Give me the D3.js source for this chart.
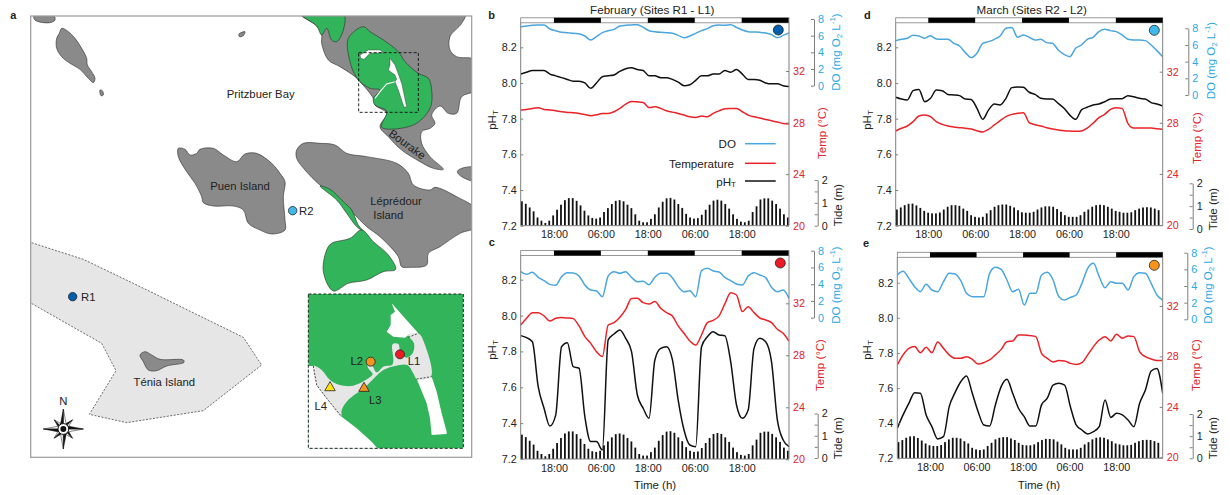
<!DOCTYPE html>
<html>
<head>
<meta charset="utf-8">
<script src="https://d3js.org/d3.v7.min.js"></script>
<style>
body { margin: 0; background: #fff; }
text { font-family: "Liberation Sans", Arial, sans-serif; fill: #222; }
</style>
</head>
<body>
<div id="wrapper"></div>
<script>
// series are sampled on an even grid of 47 points per panel, tide is hourly
const doFeb1 = [7.08,7.16,7.24,7.28,7.28,6.8,6.6,6.4,6.36,6.28,6.24,5.96,5.48,5.88,6.36,6.6,6.76,7.16,7.24,7.28,7.32,7.0,6.6,6.48,6.4,6.36,6.28,6.04,5.76,5.96,6.28,6.6,6.84,7.2,7.28,7.24,7.32,7.0,6.68,6.48,6.44,6.4,6.32,6.12,5.76,6.04,6.32];
const tempFeb1 = [28.97,29.02,29.1,29.15,29.02,28.97,28.91,28.84,28.79,28.76,28.71,28.63,28.53,28.6,28.71,28.71,28.84,29.1,29.43,29.64,29.61,29.56,29.17,29.22,29.1,28.91,28.81,28.71,28.58,28.45,28.4,28.5,28.45,28.71,28.91,29.07,29.1,29.1,28.84,28.58,28.45,28.35,28.24,28.14,28.04,27.93,27.88];
const phFeb1 = [8.05,8.06,8.07,8.07,8.07,8.05,8.04,8.03,8.02,8.01,8.01,8.0,7.97,8.0,8.035,8.04,8.045,8.065,8.08,8.085,8.075,8.07,8.04,8.04,8.03,8.03,8.02,8.005,7.985,7.99,8.015,8.04,8.04,8.05,8.05,8.07,8.06,8.075,8.05,8.02,8.02,8.015,8.0,7.995,7.995,7.985,7.98];

const doFeb2 = [5.5,5.18,5.42,4.82,4.42,3.98,3.86,4.9,5.38,5.34,4.98,3.9,3.31,3.19,2.51,4.98,5.5,5.3,5.5,4.82,4.3,4.34,3.94,4.82,5.3,5.3,4.78,3.71,3.11,3.23,2.51,5.62,5.9,5.58,5.46,4.82,4.42,4.02,3.9,4.98,5.38,5.1,4.78,3.63,3.11,3.31,2.31];
const tempFeb2 = [30.33,30.85,31.28,31.28,31.03,30.64,30.85,30.9,30.87,30.82,30.26,29.44,28.92,28.28,27.9,30.33,30.51,30.92,31.54,32.36,32.38,32.05,31.95,32.13,31.62,31.28,31.03,30.26,29.69,29.1,28.79,29.56,30.51,30.69,31.03,31.95,32.82,32.64,31.36,31.74,31.28,30.87,30.72,30.51,30.0,29.69,29.08];
const phFeb2 = [7.888,7.877,7.854,7.603,7.483,7.384,7.445,7.826,7.849,7.715,7.706,7.436,7.297,7.297,7.25,7.864,7.897,7.919,7.873,7.799,7.557,7.483,7.427,7.752,7.817,7.826,7.756,7.529,7.362,7.278,7.269,7.826,7.882,7.91,7.891,7.888,7.743,7.501,7.427,7.473,7.817,7.873,7.854,7.743,7.418,7.306,7.269];

const doMar1 = [6.52,6.68,6.8,7.16,7.08,6.8,7.12,6.72,6.68,6.68,6.2,5.88,5.08,4.48,5.0,6.2,6.4,6.68,7.08,8.0,8.1,6.92,7.2,6.92,6.6,6.68,6.28,6.2,5.4,4.88,4.6,5.6,6.0,6.68,6.92,7.6,7.88,7.72,7.6,7.2,6.68,6.6,6.6,6.52,6.0,5.32,4.6];
const tempMar1 = [27.36,27.57,27.75,28.09,28.53,28.61,28.48,28.09,27.88,27.75,27.67,27.62,27.57,27.51,27.38,27.28,27.49,27.83,28.17,28.48,28.66,28.74,28.79,28.01,27.85,27.75,27.62,27.51,27.44,27.38,27.36,27.33,27.36,27.59,27.96,28.4,28.66,29.05,29.18,29.13,27.96,27.59,27.59,27.59,27.59,27.54,27.49];
const phMar1 = [7.92,7.91,7.905,7.957,7.964,7.895,7.914,7.96,7.957,7.936,7.933,7.929,7.91,7.908,7.858,7.796,7.849,7.882,7.877,7.914,7.974,7.978,7.976,7.948,7.936,7.914,7.91,7.91,7.886,7.858,7.82,7.796,7.849,7.864,7.877,7.882,7.895,7.91,7.912,7.912,7.929,7.923,7.914,7.91,7.89,7.882,7.871];

const doMar2 = [5.32,5.76,4.92,3.92,3.32,4.2,3.52,3.32,4.52,5.52,5.44,4.64,3.12,2.72,2.72,2.72,5.52,6.24,6.0,4.72,3.32,3.6,1.72,3.12,3.12,5.32,5.64,4.72,2.72,2.32,2.64,2.92,4.32,6.12,6.72,5.12,3.8,4.52,4.32,4.32,3.52,5.12,5.6,5.52,4.32,2.92,2.32];
const tempMar2 = [27.32,28.12,28.64,28.78,28.3,28.72,28.3,29.15,28.64,28.12,27.85,27.85,27.98,27.77,27.4,27.51,27.72,28.12,28.56,29.17,29.23,29.7,29.7,29.65,29.57,28.25,27.85,27.56,27.67,27.64,27.45,27.37,27.51,28.12,28.78,29.3,29.57,29.23,29.75,29.44,29.62,29.57,28.38,27.98,27.8,27.67,27.67];
const phMar2 = [7.371,7.447,7.513,7.574,7.57,7.447,7.38,7.31,7.323,7.494,7.574,7.636,7.669,7.57,7.466,7.39,7.384,7.504,7.608,7.65,7.57,7.485,7.437,7.384,7.384,7.504,7.542,7.617,7.627,7.617,7.494,7.39,7.361,7.339,7.352,7.38,7.532,7.433,7.456,7.447,7.418,7.38,7.513,7.589,7.697,7.712,7.57];

const tideFeb = [1.07,.96,.8,.63,.36,.22,.12,.22,.45,.7,.92,1.12,1.21,1.21,1.09,.89,.66,.45,.34,.31,.36,.6,.77,.95,1.09,1.12,1.07,.92,.77,.5,.22,.15,.15,.3,.5,.8,1.05,1.2,1.22,1.15,.95,.78,.52,.36,.31,.33,.48,.7,.92,1.1,1.14,1.1,.95,.75,.5,.3,.18,.15,.22,.6,.85,1.15,1.2,1.2,1.1,.95,.75,.5,.36];
const tideMar = [.71,.8,.9,.96,.97,.89,.78,.65,.57,.54,.54,.58,.71,.83,.9,.9,.87,.75,.65,.46,.39,.36,.39,.54,.68,.83,.9,.93,.93,.87,.8,.68,.59,.57,.57,.61,.71,.8,.85,.85,.83,.73,.61,.46,.39,.39,.39,.46,.61,.71,.83,.9,.92,.9,.83,.75,.65,.61,.57,.57,.59,.68,.75,.8,.81,.8,.75,.68];

const nightStart = [18, 42, 66]; // hours since midnight of day one, each night lasts 12 h
const timeTicks = [18, 30, 42, 54, 66];
const timeLabels = ['18:00', '06:00', '18:00', '06:00', '18:00'];
const phTicks = [7.2, 7.4, 7.6, 7.8, 8.0, 8.2];
const tempTicks = [20, 24, 28, 32];
const doTicks = [0, 2, 4, 6, 8];
const tideTicks = [0, 0.5, 1, 1.5, 2];

const colors = {do: '#4aa6df', temp: '#ec2227', ph: '#111', axis: '#7f7f7f', doText: '#29a9e4', tempText: '#e3242b',
	land: '#8a8a8a', green: '#32b45a', reef: '#e6e6e6', r1: '#0060ae', r2: '#3fb9ea', l1: '#ed1c24', l2: '#f7941d', l4: '#ffe214'};

const panels = [
	{id: 'b', letter: [491.7, 17.5], x: [520.7, 789], t: [9.5, 78.1], top: 17.8, bottom: 225.7, ph: 47.3, temp: [225.7, 71], dox: 814, doy: [85.7, 19], tidex: 817.7, tidey: [225.7, 180],
		doS: doFeb1, tempS: tempFeb1, phS: phFeb1, tide: tideFeb, dot: [778.3, 30], dotC: colors.r1,
		phLab: [491.7, 120], tempLab: [821.7, 133], doLab: [836, 52], tideLab: [838.3, 205]},
	{id: 'c', letter: [491.7, 244.7], x: [520.7, 789], t: [9.5, 78.1], top: 250.6, bottom: 459, ph: 279.7, temp: [459.3, 303.3], dox: 814, doy: [317.7, 250.7], tidex: 817.7, tidey: [458, 413.5],
		doS: doFeb2, tempS: tempFeb2, phS: phFeb2, tide: tideFeb, dot: [780.3, 263], dotC: colors.l1,
		phLab: [491.7, 350], tempLab: [820, 365], doLab: [836, 285], tideLab: [838.3, 438]},
	{id: 'd', letter: [867.3, 17.5], x: [895.7, 1162.7], t: [9.66, 78], top: 17.8, bottom: 225.7, ph: 47.3, temp: [225, 71.7], dox: 1188.3, doy: [95, 28.3], tidex: 1192.7, tidey: [229, 183.3],
		doS: doMar1, tempS: tempMar1, phS: phMar1, tide: tideMar, dot: [1154.3, 30.3], dotC: colors.r2,
		phLab: [867.3, 120], tempLab: [1196.7, 138], doLab: [1210.7, 60.5], tideLab: [1213, 209]},
	{id: 'e', letter: [866, 245.7], x: [897.3, 1162.7], t: [9.57, 78], top: 252.3, bottom: 458.3, ph: 282.7, temp: [457.3, 306], dox: 1187.3, doy: [319.3, 252.7], tidex: 1192.7, tidey: [458.3, 414],
		doS: doMar2, tempS: tempMar2, phS: phMar2, tide: tideMar, dot: [1154.3, 265.3], dotC: colors.l2,
		phLab: [866.7, 350], tempLab: [1195.7, 365], doLab: [1207.7, 285], tideLab: [1213, 438]}
];

// map outlines, in 3x crop pixels of the figure
const islandNW = [[103,45],[160,45],[165,60],[150,68],[115,65],[103,58]];
const islandW = [[185,85],[205,95],[225,115],[245,145],[260,175],[262,195],[275,215],[285,235],[280,248],[265,235],[240,208],[210,190],[185,170],[170,145],[170,115],[178,100]];
const rock1 = [[300,270],[307,272],[310,285],[303,287]];
const rock2 = [[717,102],[735,95],[730,107],[718,110]];
const mainland = [[900,40],[1395,40],[1385,70],[1350,110],[1350,150],[1370,170],[1425,180],[1425,270],[1385,290],[1370,340],[1345,340],[1320,318],[1295,345],[1305,370],[1290,385],[1265,395],[1265,430],[1290,470],[1330,508],[1300,505],[1260,485],[1205,450],[1165,410],[1140,380],[1160,340],[1125,315],[1120,295],[1080,245],[1065,230],[1020,200],[985,180],[965,130],[965,105],[950,78]];
const farRight = [[1425,503],[1385,505],[1372,515],[1385,530],[1425,542]];
const puen = [[535,445],[555,448],[570,465],[590,460],[600,448],[640,445],[670,465],[710,485],[735,462],[770,460],[815,490],[840,520],[855,545],[850,590],[855,660],[855,690],[815,702],[780,690],[745,670],[730,630],[700,618],[640,618],[610,608],[605,590],[585,550],[560,515],[535,470]];
const lepredour = [[890,450],[910,430],[960,430],[1005,435],[1040,460],[1100,470],[1190,490],[1225,520],[1240,555],[1290,570],[1305,562],[1370,590],[1430,630],[1430,680],[1380,700],[1320,740],[1285,760],[1280,795],[1230,802],[1205,800],[1195,770],[1140,710],[1100,680],[1060,640],[1010,590],[960,555],[915,510],[890,475]];
const tenia = [[420,1065],[435,1055],[455,1065],[480,1078],[550,1080],[552,1087],[500,1098],[470,1112],[445,1110],[430,1085]];
const reef = [[85,725],[250,778],[400,850],[730,1012],[785,1095],[610,1232],[380,1268],[268,1243],[348,1112],[305,1030],[85,905]];
const greenNorth = [[900,40],[950,78],[965,105],[980,85],[995,120],[1010,125],[1030,90],[1030,40]];
const greenBourake = [[1045,115],[1090,80],[1110,95],[1150,120],[1195,155],[1215,185],[1255,220],[1285,235],[1295,270],[1290,325],[1240,375],[1145,382],[1160,340],[1158,330],[1125,315],[1120,295],[1140,270],[1110,265],[1080,245],[1065,225],[1050,185]];
const greenStrip = [[960,558],[990,568],[1030,605],[1055,630],[1075,675],[1092,695],[1070,680],[1040,640],[1010,600]];
const greenSouth = [[1085,690],[1120,725],[1165,765],[1187,808],[1150,815],[1100,840],[1045,850],[1000,873],[970,815],[980,750],[995,730],[1050,715]];
const lagoonTop = [[1080,165],[1105,150],[1140,150],[1150,158],[1110,160],[1092,178],[1082,175]];
const lagoonMain = [[1170,175],[1185,195],[1205,250],[1220,320],[1212,322],[1195,270],[1185,245],[1190,238],[1185,225],[1165,210],[1170,195]];
const lagoonChannel = [[1185,245],[1160,252],[1140,275],[1125,295]];
const boxSmall = [[1076,158],[1255,158],[1255,337],[1076,337]];

// inset outlines, in 3x crop pixels of the inset crop
const insetFrame = [[25,27],[490,27],[490,490],[25,490]];
const insetWhiteSW = [[25,243],[40,243],[50,300],[80,340],[125,395],[170,430],[215,470],[232,490],[25,490]];
const insetWhiteN = [[275,55],[355,145],[325,150],[315,158],[280,155],[260,140],[272,120],[272,90],[285,80]];
const insetWhiteS = [[350,282],[395,275],[410,320],[425,385],[440,440],[440,447],[395,450],[390,400],[380,355]];
const insetGrey = [[40,243],[65,255],[90,285],[120,300],[160,302],[205,280],[218,268],[205,250],[203,240],[215,240],[230,262],[250,245],[278,238],[278,178],[295,177],[300,195],[318,218],[338,205],[342,175],[325,150],[355,145],[375,180],[393,275],[350,282],[340,265],[322,240],[285,243],[250,255],[222,280],[190,312],[170,325],[140,350],[125,375],[123,395],[80,340],[50,300]];
const insetDash1 = [[325,157],[355,145]];
const insetDash2 = [[350,282],[395,275]];
const insetDash3 = [[40,243],[50,300],[80,340],[125,395]];
const insetTriangles = [{p: [90, 308], c: colors.l4}, {p: [192, 310], c: colors.l2}];
const insetDots = [{p: [300, 208], c: colors.l1}, {p: [212, 230], c: colors.l2}];
const insetLabels = [{t: 'L1', p: [342, 228]}, {t: 'L2', p: [170, 228]}, {t: 'L3', p: [226, 345]}, {t: 'L4', p: [62, 362]}];

const mapLabels = [
	{t: 'Pritzbuer Bay', p: [782, 282]}, {t: 'Puen Island', p: [720, 557]}, {t: 'Léprédour', p: [1188, 603]},
	{t: 'Island', p: [1165, 645]}, {t: 'Ténia Island', p: [493, 1145]}
];
const compassLong = [0, 90, 180, 270];
const compassShort = [45, 135, 225, 315];

const svg = d3.select('#wrapper').append('svg')
	.attr('width', 1230)
	.attr('height', 495)
	.style('display', 'block');

function label(x, y, txt, opts = {}) {
	return svg.append('text')
		.attr('x', x)
		.attr('y', y)
		.attr('text-anchor', opts.anchor || 'middle')
		.attr('dominant-baseline', 'central')
		.style('font-size', (opts.size || 11.3) + 'px')
		.style('font-weight', opts.weight || 'normal')
		.style('fill', opts.fill || '#222')
		.text(txt);
}

function rotated(x, y, parts, fill) {
	const t = svg.append('text')
		.attr('transform', `translate(${x},${y}) rotate(-90)`)
		.attr('text-anchor', 'middle')
		.attr('dominant-baseline', 'central')
		.style('font-size', '11.5px')
		.style('fill', fill);
	parts.forEach((p) => {
		const s = t.append('tspan').text(p.t);
		if (p.sub) s.attr('dy', 3).style('font-size', '8px');
		if (p.sup) s.attr('dy', -4).style('font-size', '8px');
		if (p.back) s.attr('dy', p.back);
	});
}

function drawMap() {
	const mapX = d3.scaleLinear().domain([0, 1440]).range([0, 480]);
	const mapY = d3.scaleLinear().domain([0, 1440]).range([0, 480]);
	const insetX = d3.scaleLinear().domain([0, 510]).range([300, 470]);
	const insetY = d3.scaleLinear().domain([0, 510]).range([285, 455]);
	const smooth = d3.line().x((d) => mapX(d[0])).y((d) => mapY(d[1])).curve(d3.curveCatmullRomClosed.alpha(0.5));
	const straight = d3.line().x((d) => mapX(d[0])).y((d) => mapY(d[1])).curve(d3.curveLinearClosed);
	const open = d3.line().x((d) => mapX(d[0])).y((d) => mapY(d[1]));
	const inSmooth = d3.line().x((d) => insetX(d[0])).y((d) => insetY(d[1])).curve(d3.curveCatmullRomClosed.alpha(0.5));
	const inLine = d3.line().x((d) => insetX(d[0])).y((d) => insetY(d[1]));

	svg.append('clipPath').attr('id', 'map-clip')
		.append('rect').attr('x', 30.7).attr('y', 16).attr('width', 441).attr('height', 441.3);
	const g = svg.append('g').attr('clip-path', 'url(#map-clip)');

	g.append('path').attr('d', straight(reef)).attr('fill', colors.reef).attr('stroke', '#333').attr('stroke-width', 0.7).attr('stroke-dasharray', '2,1.5');

	[islandNW, islandW, rock1, rock2, farRight, puen, lepredour, tenia, mainland].forEach((s) => {
		g.append('path').attr('d', smooth(s)).attr('fill', colors.land).attr('stroke', '#2b2b2b').attr('stroke-width', 0.6);
	});
	[greenNorth, greenBourake, greenStrip, greenSouth].forEach((s) => {
		g.append('path').attr('d', smooth(s)).attr('fill', colors.green).attr('stroke', '#2b2b2b').attr('stroke-width', 0.6);
	});
	g.append('path').attr('d', open(lagoonChannel)).attr('fill', 'none').attr('stroke', '#fff').attr('stroke-width', 1.1);
	[lagoonTop, lagoonMain].forEach((s) => {
		g.append('path').attr('d', straight(s)).attr('fill', '#fff').attr('stroke', '#2b2b2b').attr('stroke-width', 0.4);
	});
	g.append('path').attr('d', straight(boxSmall)).attr('fill', 'none').attr('stroke', '#111').attr('stroke-width', 0.9).attr('stroke-dasharray', '3,2');

	// inset
	g.append('path').attr('d', inLine(insetFrame) + 'Z').attr('fill', colors.green);
	[insetWhiteSW, insetWhiteN, insetWhiteS].forEach((s) => {
		g.append('path').attr('d', inLine(s) + 'Z').attr('fill', '#fff');
	});
	g.append('path').attr('d', inSmooth(insetGrey)).attr('fill', colors.reef);
	[insetDash1, insetDash2, insetDash3].forEach((s) => {
		g.append('path').attr('d', inLine(s)).attr('fill', 'none').attr('stroke', '#222').attr('stroke-width', 0.8).attr('stroke-dasharray', '2,1.5');
	});
	g.append('path').attr('d', inLine(insetFrame) + 'Z').attr('fill', 'none').attr('stroke', '#111').attr('stroke-width', 0.9).attr('stroke-dasharray', '3,2');

	const tri = d3.symbol().type(d3.symbolTriangle).size(48);
	insetTriangles.forEach((d) => {
		g.append('path').attr('d', tri()).attr('transform', `translate(${insetX(d.p[0])},${insetY(d.p[1])})`).attr('fill', d.c).attr('stroke', '#222').attr('stroke-width', 0.8);
	});
	insetDots.forEach((d) => {
		g.append('circle').attr('cx', insetX(d.p[0])).attr('cy', insetY(d.p[1])).attr('r', 4.5).attr('fill', d.c).attr('stroke', '#222').attr('stroke-width', 0.8);
	});
	insetLabels.forEach((d) => label(insetX(d.p[0]), insetY(d.p[1]), d.t));

	g.append('circle').attr('cx', mapX(878)).attr('cy', mapY(632)).attr('r', 4.2).attr('fill', colors.r2).attr('stroke', '#222').attr('stroke-width', 0.8);
	g.append('circle').attr('cx', mapX(218)).attr('cy', mapY(890)).attr('r', 4.2).attr('fill', colors.r1).attr('stroke', '#222').attr('stroke-width', 0.8);
	label(mapX(897), mapY(632), 'R2', {anchor: 'start'});
	label(mapX(243), mapY(891), 'R1', {anchor: 'start'});
	mapLabels.forEach((d) => label(mapX(d.p[0]), mapY(d.p[1]), d.t));
	label(mapX(1222), mapY(433), 'Bourake').attr('transform', `rotate(36 ${mapX(1222)} ${mapY(433)})`);

	svg.append('rect').attr('x', 30.7).attr('y', 16).attr('width', 441).attr('height', 441.3).attr('fill', 'none').attr('stroke', '#999').attr('stroke-width', 1.2);

	// compass rose
	const cx = mapX(190);
	const cy = mapY(1287);
	const polar = (r, deg) => [cx + r * Math.sin(deg * Math.PI / 180), cy - r * Math.cos(deg * Math.PI / 180)];
	const poly = d3.line().curve(d3.curveLinearClosed);
	compassShort.forEach((a) => {
		svg.append('path').attr('d', poly([polar(0, a), polar(13, a), polar(4, a + 45)])).attr('fill', '#fff').attr('stroke', '#111').attr('stroke-width', 0.5);
		svg.append('path').attr('d', poly([polar(0, a), polar(13, a), polar(4, a - 45)])).attr('fill', '#111').attr('stroke', '#111').attr('stroke-width', 0.5);
	});
	compassLong.forEach((a) => {
		svg.append('path').attr('d', poly([polar(0, a), polar(20, a), polar(4.5, a + 45)])).attr('fill', '#fff').attr('stroke', '#111').attr('stroke-width', 0.5);
		svg.append('path').attr('d', poly([polar(0, a), polar(20, a), polar(4.5, a - 45)])).attr('fill', '#111').attr('stroke', '#111').attr('stroke-width', 0.5);
	});
	svg.append('circle').attr('cx', cx).attr('cy', cy).attr('r', 5.4).attr('fill', '#fff').attr('stroke', '#111').attr('stroke-width', 1);
	svg.append('circle').attr('cx', cx).attr('cy', cy).attr('r', 3).attr('fill', '#111');
	label(cx, mapY(1204), 'N');
	label(13.3, 15, 'a', {weight: 'bold', size: 11});
}

function drawPanel(p) {
	const x = d3.scaleLinear().domain(p.t).range(p.x);
	const hours = d3.range(47).map((i) => p.t[0] + i * (p.t[1] - p.t[0]) / 46);
	const barTop = p.top + 5;
	const yPh = d3.scaleLinear().domain([7.2, 8.2]).range([p.bottom, p.ph]);
	const yTemp = d3.scaleLinear().domain([20, 32]).range(p.temp);
	const yDo = d3.scaleLinear().domain([0, 8]).range(p.doy);
	const yTideAxis = d3.scaleLinear().domain([0, 2]).range(p.tidey);
	const yTide = d3.scaleLinear().domain([0, 2]).range([p.bottom, p.bottom - 45.6]);
	const g = svg.append('g').attr('class', 'panel-' + p.id);

	const clipId = 'clip-' + p.id;
	svg.append('clipPath').attr('id', clipId)
		.append('rect').attr('x', p.x[0]).attr('y', p.top).attr('width', p.x[1] - p.x[0]).attr('height', p.bottom - p.top);
	const plot = g.append('g').attr('clip-path', `url(#${clipId})`);

	plot.selectAll('rect.tide').data(p.tide).join('rect')
		.attr('class', 'tide')
		.attr('x', (d, i) => x(p.t[0] + 0.3 + i) - 0.9)
		.attr('width', 1.8)
		.attr('y', (d) => yTide(d))
		.attr('height', (d) => p.bottom - yTide(d))
		.attr('fill', '#111');

	const drawSeries = (vals, scale, color) => {
		plot.append('path')
			.datum(vals)
			.attr('fill', 'none')
			.attr('stroke', color)
			.attr('stroke-width', 1.5)
			.attr('d', d3.line().x((d, i) => x(hours[i])).y((d) => scale(d)).curve(d3.curveMonotoneX));
	};
	drawSeries(p.doS, yDo, colors.do);
	drawSeries(p.tempS, yTemp, colors.temp);
	drawSeries(p.phS, yPh, colors.ph);

	// day and night strip
	g.append('rect').attr('x', p.x[0]).attr('y', p.top).attr('width', p.x[1] - p.x[0]).attr('height', 5).attr('fill', '#fff').attr('stroke', colors.axis).attr('stroke-width', 0.8);
	g.selectAll('rect.night').data(nightStart).join('rect')
		.attr('class', 'night')
		.attr('x', (d) => x(d))
		.attr('y', p.top)
		.attr('width', 12 * (p.x[1] - p.x[0]) / (p.t[1] - p.t[0]))
		.attr('height', 5)
		.attr('fill', '#000');

	// frame
	g.append('path')
		.attr('d', d3.line()([[p.x[0], barTop], [p.x[0], p.bottom], [p.x[1], p.bottom], [p.x[1], barTop]]))
		.attr('fill', 'none').attr('stroke', colors.axis).attr('stroke-width', 1);

	const axisStyle = (sel, textColor) => {
		sel.select('.domain').attr('stroke', colors.axis);
		sel.selectAll('.tick line').attr('stroke', colors.axis);
		sel.selectAll('text').style('font-size', '10.8px').style('fill', textColor).style('font-family', '"Liberation Sans", Arial, sans-serif');
	};

	g.append('g').attr('transform', `translate(0,${p.bottom})`)
		.call(d3.axisBottom(x).tickValues(timeTicks).tickSize(0).tickPadding(5).tickFormat((d, i) => timeLabels[i]))
		.call((s) => s.select('.domain').remove())
		.call((s) => axisStyle(s, '#222'));

	g.append('g').attr('transform', `translate(${p.x[0]},0)`)
		.call(d3.axisLeft(yPh).tickValues(phTicks).tickSizeInner(-2.5).tickSizeOuter(0).tickPadding(4).tickFormat(d3.format('.1f')))
		.call((s) => s.select('.domain').remove())
		.call((s) => axisStyle(s, '#222'));

	g.append('g').attr('transform', `translate(${p.x[1]},0)`)
		.call(d3.axisRight(yTemp).tickValues(tempTicks).tickSizeInner(-3).tickSizeOuter(0).tickPadding(4))
		.call((s) => s.select('.domain').remove())
		.call((s) => axisStyle(s, colors.tempText));

	g.append('g').attr('transform', `translate(${p.dox},0)`)
		.call(d3.axisRight(yDo).tickValues(doTicks).tickSizeInner(-3).tickSizeOuter(0).tickPadding(4))
		.call((s) => axisStyle(s, colors.doText));

	g.append('g').attr('transform', `translate(${p.tidex},0)`)
		.call(d3.axisRight(yTideAxis).tickValues(tideTicks).tickSizeInner(-3).tickSizeOuter(0).tickPadding(4)
			.tickFormat((d) => Number.isInteger(d) ? d : ''))
		.call((s) => axisStyle(s, '#222'));

	g.append('circle').attr('cx', p.dot[0]).attr('cy', p.dot[1]).attr('r', 5).attr('fill', p.dotC).attr('stroke', '#222').attr('stroke-width', 0.8);

	label(p.letter[0], p.letter[1] - 3, p.id, {weight: 'bold', size: 11});
	rotated(p.phLab[0], p.phLab[1], [{t: 'pH'}, {t: 'T', sub: true}], '#222');
	rotated(p.tempLab[0], p.tempLab[1], [{t: 'Temp (°C)'}], colors.tempText);
	rotated(p.doLab[0], p.doLab[1], [{t: 'DO (mg O'}, {t: '2', sub: true}, {t: ' L', back: -3}, {t: '-1', sup: true}, {t: ')', back: 4}], colors.doText);
	rotated(p.tideLab[0], p.tideLab[1], [{t: 'Tide (m)'}], '#222');
}

const legend = [
	{t: 'DO', c: colors.do, y: 143.7, right: 736},
	{t: 'Temperature', c: colors.temp, y: 163.3, right: 734},
	{t: 'pH', c: colors.ph, y: 181, right: 736, sub: 'T'}
];

drawMap();
panels.forEach(drawPanel);

legend.forEach((d) => {
	const t = label(d.right, d.y, d.t, {anchor: 'end', size: 11.6});
	if (d.sub) t.append('tspan').attr('dy', 3).style('font-size', '8px').text(d.sub);
	svg.append('line').attr('x1', 745).attr('x2', 775.7).attr('y1', d.y).attr('y2', d.y).attr('stroke', d.c).attr('stroke-width', 1.5);
});

label(652.3, 9, 'February (Sites R1 - L1)', {size: 11.6});
label(1031.7, 9, 'March (Sites R2 - L2)', {size: 11.6});
label(655, 485, 'Time (h)', {size: 11.5});
label(1039, 485, 'Time (h)', {size: 11.5});
</script>
</body>
</html>
